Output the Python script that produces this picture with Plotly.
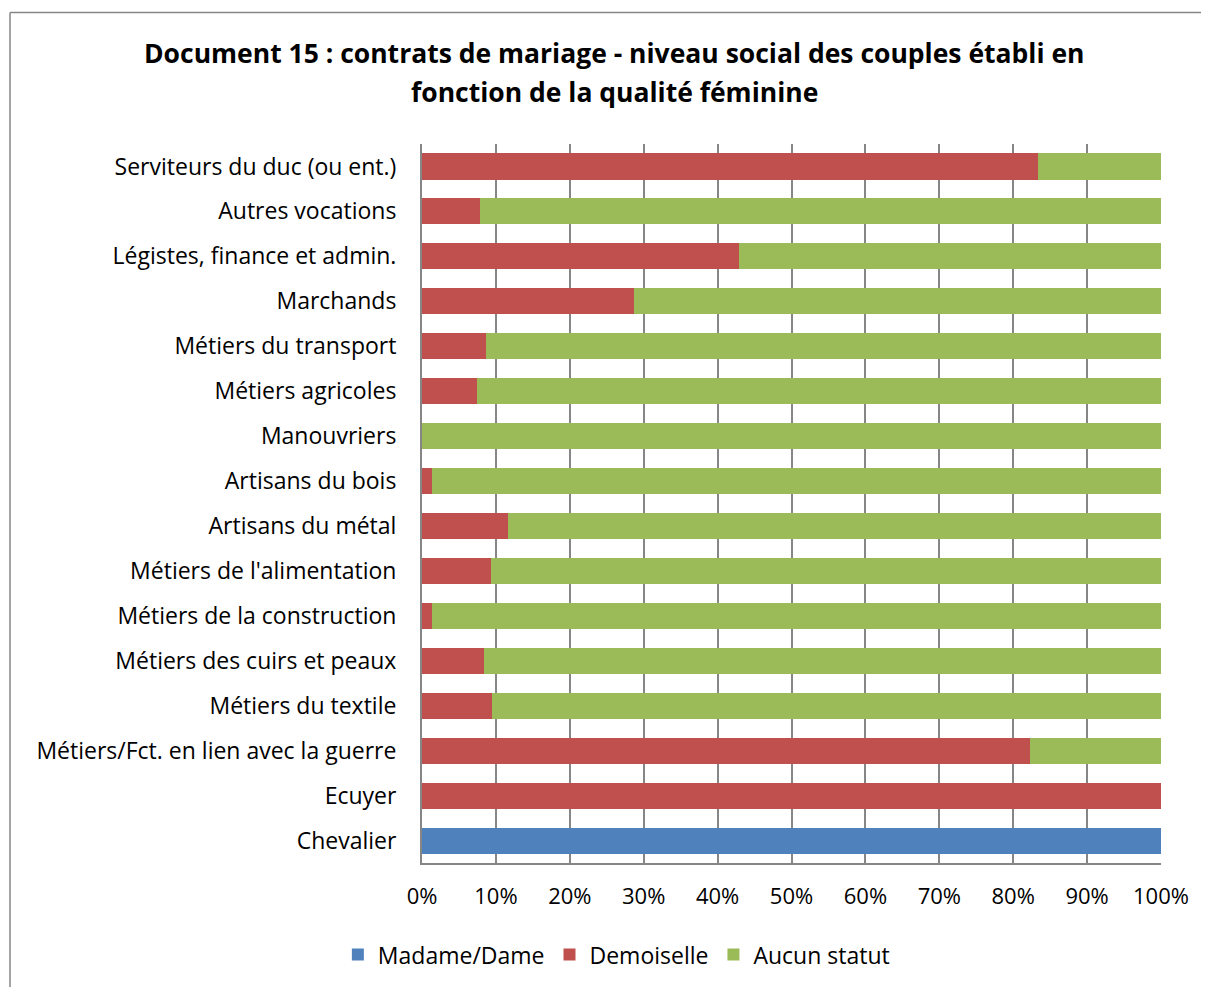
import plotly.graph_objects as go

CATEGORIES = ["Serviteurs du duc (ou ent.)", "Autres vocations", "Légistes, finance et admin.",
              "Marchands", "Métiers du transport", "Métiers agricoles", "Manouvriers",
              "Artisans du bois", "Artisans du métal", "Métiers de l'alimentation",
              "Métiers de la construction", "Métiers des cuirs et peaux", "Métiers du textile",
              "Métiers/Fct. en lien avec la guerre", "Ecuyer", "Chevalier"]

DAME = [0, 0, 0, 0, 0, 0, 0, 0, 0, 0, 0, 0, 0, 0, 0, 100]
DEMOISELLE = [83.3, 7.9, 42.9, 28.7, 8.7, 7.4, 0, 1.4, 11.7, 9.3, 1.4, 8.4, 9.5, 82.3, 100, 0]
AUCUN = [16.7, 92.1, 57.1, 71.3, 91.3, 92.6, 100, 98.6, 88.3, 90.7, 98.6, 91.6, 90.5, 17.7, 0, 0]

TITRE_1 = "<b>Document 15 : contrats de mariage - niveau social des couples établi en</b>"
TITRE_2 = "<b>fonction de la qualité féminine</b>"

fig = go.Figure()
for nom, vals, couleur in [("Madame/Dame", DAME, "#4F81BD"),
                           ("Demoiselle", DEMOISELLE, "#C0504D"),
                           ("Aucun statut", AUCUN, "#9BBB59")]:
    fig.add_trace(go.Bar(y=CATEGORIES, x=vals, name=nom, orientation="h",
                         marker=dict(color=couleur, line=dict(width=0))))

# la page ajoute ~8px de marge, d'où la taille réduite
fig.update_layout(
    barmode="stack", bargap=0.42,
    width=1201, height=979,
    margin=dict(l=414, r=48, t=136, b=123),
    paper_bgcolor="white", plot_bgcolor="white",
    font=dict(family="Open Sans", size=23, color="black"),
    legend=dict(orientation="h", x=0.263, xanchor="center", y=-0.096, yanchor="top",
                font=dict(size=23), traceorder="normal"),
    showlegend=True,
)
fig.update_xaxes(range=[0, 100], dtick=10, ticksuffix="%", showgrid=True,
                 gridcolor="#868686", gridwidth=2, showline=True, linecolor="#868686",
                 linewidth=2, zeroline=False, ticks="", ticklabelstandoff=13,
                 tickfont=dict(size=22))
fig.update_yaxes(autorange="reversed", showline=True, linecolor="#868686", linewidth=2,
                 ticks="", ticklabelstandoff=19)

for texte, yy in [(TITRE_1, 1.1264), (TITRE_2, 1.0722)]:
    fig.add_annotation(text=texte, xref="paper", yref="paper", x=0.261, y=yy,
                       xanchor="center", yanchor="middle", showarrow=False,
                       font=dict(family="Open Sans", size=26.5, color="black"))

# cadre du graphique (bords haut et gauche seulement visibles)
fig.add_shape(type="line", xref="paper", yref="paper", x0=-0.5575, x1=1.2, y0=1.183, y1=1.183,
              line=dict(color="#868686", width=1.5))
fig.add_shape(type="line", xref="paper", yref="paper", x0=-0.5575, x1=-0.5575, y0=-0.3, y1=1.183,
              line=dict(color="#868686", width=1.5))

fig.write_html("out.html")
